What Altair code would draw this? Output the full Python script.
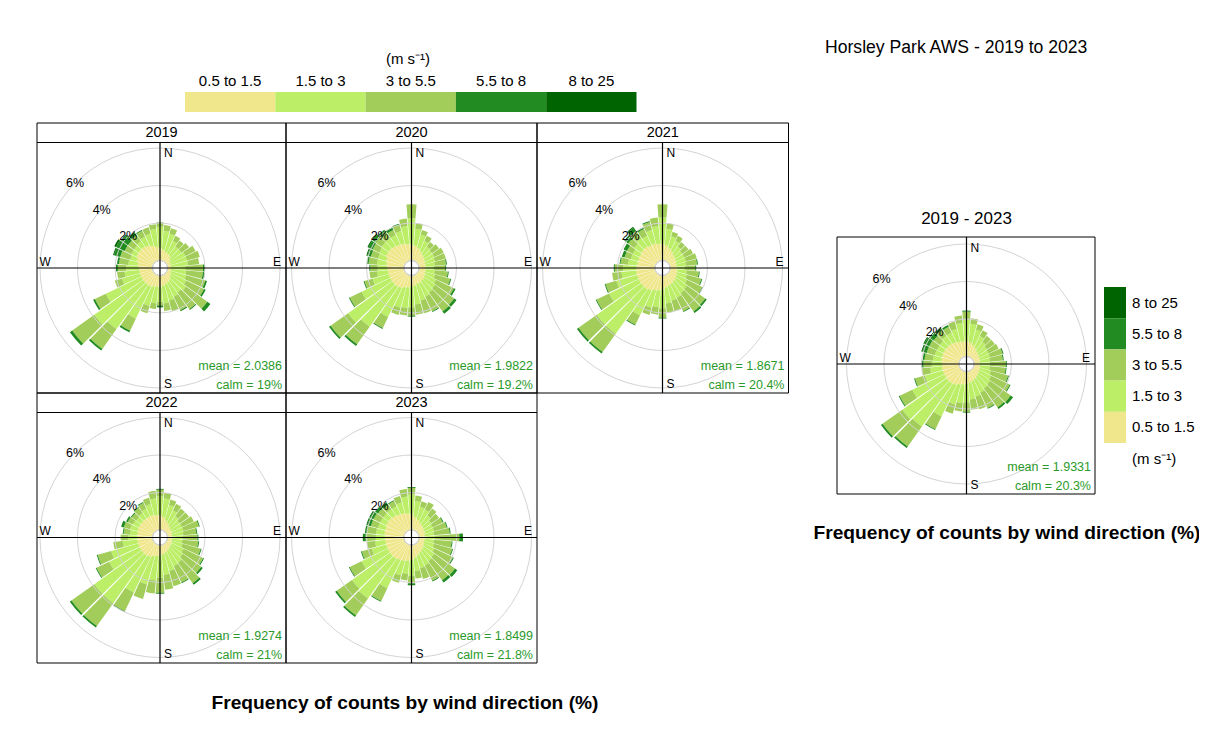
import math
import altair as alt
import pandas as pd

# ---------------- data ----------------
DIRECTIONS = [10, 20, 30, 40, 50, 60, 70, 80, 90, 100, 110, 120, 130, 140, 150, 160, 170, 180,
              190, 200, 210, 220, 230, 240, 250, 260, 270, 280, 290, 300, 310, 320, 330, 340, 350, 360]
SPEED_BINS = ["0.5 to 1.5", "1.5 to 3", "3 to 5.5", "5.5 to 8", "8 to 25"]
SPEED_COLORS = ["#F0E68C", "#BCEE68", "#A2CD5A", "#228B22", "#006400"]
PANELS = ["2019", "2020", "2021", "2022", "2023", "2019 - 2023"]
MEAN_SPEED = ["2.0386", "1.9822", "1.8671", "1.9274", "1.8499", "1.9331"]
CALM_PCT = ["19%", "19.2%", "20.4%", "21%", "21.8%", "20.3%"]
GRID_PCT = [2, 4, 6]
TITLE = "Horsley Park AWS - 2019 to 2023"
CAPTION = "Frequency of counts by wind direction (%)"
UNITS = "(m s\u207b\u00b9)"

P2019_S1 = [0.6, 0.5, 0.45, 0.4, 0.3, 0.2, 0.2, 0.2, 0.2, 0.2, 0.2, 0.25, 0.3, 0.4, 0.45, 0.5, 0.55, 0.6,
            0.6, 0.65, 0.7, 0.7, 0.7, 0.7, 0.7, 0.7, 0.7, 0.8, 0.9, 1.0, 1.0, 1.0, 0.95, 0.85, 0.75, 0.65]
P2019_S2 = [1.0, 1.0, 0.75, 0.6, 0.7, 0.9, 0.9, 0.9, 0.75, 0.8, 0.85, 0.9, 1.0, 0.8, 0.85, 0.9, 0.95, 0.8,
            0.9, 1.05, 1.9, 2.9, 3.2, 2.1, 1.0, 0.8, 0.7, 0.5, 0.35, 0.3, 0.3, 0.35, 0.5, 0.65, 0.95, 1.15]
P2019_S3 = [0.3, 0.3, 0.3, 0.4, 0.5, 0.6, 0.7, 0.6, 0.95, 0.9, 1.05, 1.05, 1.4, 1.1, 0.8, 0.6, 0.4, 0.2,
            0.3, 0.4, 0.7, 1.3, 1.45, 0.65, 0.4, 0.4, 0.45, 0.5, 0.55, 0.4, 0.4, 0.4, 0.35, 0.35, 0.25, 0.25]
P2019_S4 = [0, 0, 0, 0, 0, 0, 0, 0, 0.1, 0.1, 0.1, 0.1, 0.2, 0.05, 0.05, 0, 0, 0.1,
            0, 0, 0.1, 0.1, 0.15, 0.1, 0, 0, 0.1, 0.1, 0.35, 0.5, 0.4, 0.2, 0.05, 0, 0, 0]
P2019_S5 = [0, 0, 0, 0, 0, 0, 0, 0, 0, 0, 0, 0, 0, 0, 0, 0, 0, 0,
            0, 0, 0, 0, 0, 0, 0, 0, 0, 0, 0.05, 0.1, 0.05, 0, 0, 0, 0, 0]

P2020_S1 = [0.8, 0.7, 0.6, 0.5, 0.45, 0.4, 0.35, 0.35, 0.35, 0.35, 0.35, 0.4, 0.45, 0.45, 0.5, 0.5, 0.55, 0.6,
            0.65, 0.7, 0.8, 0.85, 0.85, 0.85, 0.85, 0.85, 0.9, 0.95, 1.0, 1.1, 1.1, 1.05, 1.0, 0.95, 0.9, 0.85]
P2020_S2 = [0.9, 0.75, 0.6, 0.5, 0.5, 0.55, 0.55, 0.5, 0.45, 0.5, 0.55, 0.65, 0.7, 0.75, 0.8, 0.9, 1.0, 1.1,
            1.1, 1.1, 1.7, 2.6, 2.9, 1.7, 0.9, 0.6, 0.5, 0.5, 0.45, 0.4, 0.45, 0.5, 0.55, 0.7, 0.95, 1.4]
P2020_S3 = [0.3, 0.25, 0.3, 0.3, 0.45, 0.55, 0.6, 0.6, 0.6, 0.7, 0.85, 1.05, 1.25, 1.25, 0.85, 0.7, 0.55, 0.45,
            0.4, 0.4, 0.65, 1.15, 1.15, 0.7, 0.45, 0.4, 0.4, 0.45, 0.4, 0.4, 0.4, 0.35, 0.3, 0.35, 0.4, 0.75]
P2020_S4 = [0, 0, 0, 0, 0, 0, 0, 0.05, 0.05, 0.05, 0.05, 0.1, 0.15, 0.15, 0.05, 0, 0, 0.05,
            0, 0, 0.05, 0.1, 0.1, 0.05, 0.05, 0, 0.05, 0.1, 0.2, 0.25, 0.2, 0.2, 0.15, 0.05, 0, 0]
P2020_S5 = [0, 0, 0, 0, 0, 0, 0, 0, 0, 0, 0, 0, 0, 0, 0, 0, 0, 0,
            0, 0, 0, 0, 0, 0, 0, 0, 0, 0, 0.05, 0.05, 0.05, 0, 0, 0, 0, 0]

P2021_S1 = [0.8, 0.7, 0.6, 0.5, 0.45, 0.4, 0.35, 0.35, 0.35, 0.4, 0.4, 0.45, 0.5, 0.5, 0.55, 0.6, 0.65, 0.75,
            0.8, 0.85, 0.95, 1.0, 1.0, 1.0, 1.0, 1.0, 1.0, 0.95, 0.95, 0.95, 1.0, 1.0, 0.95, 0.95, 0.9, 0.9]
P2021_S2 = [0.9, 0.65, 0.6, 0.5, 0.45, 0.5, 0.55, 0.5, 0.45, 0.5, 0.55, 0.6, 0.7, 0.75, 0.8, 0.8, 0.85, 1.0,
            0.9, 0.95, 1.45, 2.9, 2.9, 1.75, 1.15, 0.8, 0.7, 0.5, 0.4, 0.4, 0.45, 0.55, 0.55, 0.75, 0.95, 1.4]
P2021_S3 = [0.3, 0.25, 0.3, 0.3, 0.4, 0.5, 0.6, 0.6, 0.55, 0.65, 0.8, 0.9, 1.2, 1.2, 0.8, 0.6, 0.5, 0.5,
            0.4, 0.4, 0.55, 1.2, 1.2, 0.75, 0.6, 0.5, 0.45, 0.4, 0.35, 0.35, 0.4, 0.45, 0.4, 0.45, 0.45, 0.7]
P2021_S4 = [0, 0, 0, 0, 0, 0, 0, 0.05, 0.05, 0.05, 0.05, 0.05, 0.1, 0.1, 0.05, 0, 0, 0.05,
            0, 0, 0.05, 0.1, 0.1, 0.05, 0.05, 0, 0.05, 0.05, 0.15, 0.2, 0.2, 0.25, 0.1, 0.05, 0, 0]
P2021_S5 = [0, 0, 0, 0, 0, 0, 0, 0, 0, 0, 0, 0, 0, 0, 0, 0, 0, 0,
            0, 0, 0, 0, 0, 0, 0, 0, 0, 0, 0, 0, 0.05, 0.05, 0, 0, 0, 0]

P2022_S1 = [0.7, 0.55, 0.45, 0.35, 0.3, 0.3, 0.25, 0.25, 0.25, 0.25, 0.25, 0.3, 0.3, 0.35, 0.4, 0.45, 0.5, 0.55,
            0.6, 0.65, 0.75, 0.8, 0.8, 0.8, 0.8, 0.8, 0.8, 0.8, 0.85, 0.85, 0.85, 0.85, 0.85, 0.85, 0.8, 0.8]
P2022_S2 = [1.0, 0.85, 0.75, 0.65, 0.6, 0.6, 0.65, 0.6, 0.55, 0.55, 0.6, 0.7, 0.8, 0.9, 0.9, 1.0, 1.1, 1.2,
            1.3, 1.55, 2.1, 3.1, 3.1, 1.8, 1.5, 0.8, 0.5, 0.4, 0.4, 0.35, 0.3, 0.35, 0.45, 0.6, 0.9, 1.0]
P2022_S3 = [0.3, 0.3, 0.4, 0.5, 0.6, 0.7, 0.85, 0.7, 0.8, 0.85, 1.0, 1.15, 1.2, 1.35, 0.95, 0.85, 0.8, 0.8,
            0.7, 0.8, 1.1, 1.5, 1.5, 0.75, 0.75, 0.5, 0.4, 0.35, 0.35, 0.3, 0.3, 0.35, 0.35, 0.35, 0.4, 0.35]
P2022_S4 = [0, 0, 0, 0, 0, 0, 0.05, 0.05, 0.05, 0.05, 0.05, 0.05, 0.1, 0.1, 0.05, 0, 0, 0.05,
            0, 0, 0.05, 0.1, 0.1, 0.05, 0.05, 0, 0, 0.05, 0.15, 0.1, 0.05, 0.05, 0.05, 0, 0, 0.05]
P2022_S5 = [0, 0, 0, 0, 0, 0, 0, 0, 0, 0, 0, 0, 0, 0, 0, 0, 0, 0,
            0, 0, 0, 0, 0, 0, 0, 0, 0, 0, 0, 0, 0, 0, 0, 0, 0, 0]

P2023_S1 = [0.7, 0.6, 0.5, 0.45, 0.4, 0.35, 0.35, 0.3, 0.3, 0.3, 0.3, 0.35, 0.4, 0.45, 0.5, 0.6, 0.7, 0.8,
            0.85, 0.9, 0.95, 1.0, 1.0, 1.0, 1.0, 1.0, 1.0, 1.05, 1.05, 1.1, 1.1, 1.05, 1.0, 0.95, 0.9, 0.85]
P2023_S2 = [0.85, 0.7, 0.75, 0.6, 0.5, 0.5, 0.5, 0.5, 0.55, 0.5, 0.55, 0.6, 0.7, 0.7, 0.75, 0.7, 0.7, 0.85,
            0.7, 0.8, 1.65, 2.6, 2.5, 1.55, 0.8, 0.55, 0.5, 0.45, 0.4, 0.35, 0.35, 0.4, 0.45, 0.6, 0.9, 1.05]
P2023_S3 = [0.3, 0.3, 0.45, 0.45, 0.5, 0.6, 0.7, 0.85, 1.3, 0.95, 1.0, 1.1, 1.35, 1.25, 0.9, 0.6, 0.4, 0.4,
            0.35, 0.4, 0.75, 1.1, 1.0, 0.7, 0.55, 0.45, 0.55, 0.5, 0.4, 0.4, 0.35, 0.3, 0.3, 0.35, 0.4, 0.35]
P2023_S4 = [0, 0, 0, 0, 0, 0.05, 0.05, 0.05, 0.2, 0.05, 0.05, 0.05, 0.15, 0.15, 0.05, 0, 0, 0.1,
            0, 0, 0.05, 0.1, 0.1, 0.05, 0.05, 0, 0.15, 0.1, 0.2, 0.2, 0.2, 0.15, 0.05, 0, 0, 0.05]
P2023_S5 = [0, 0, 0, 0, 0, 0, 0, 0, 0, 0, 0, 0, 0, 0, 0, 0, 0, 0,
            0, 0, 0, 0, 0, 0, 0, 0, 0, 0, 0.05, 0.05, 0, 0, 0, 0, 0, 0]

PALL_S1 = [0.75, 0.65, 0.55, 0.45, 0.4, 0.35, 0.35, 0.3, 0.3, 0.3, 0.35, 0.35, 0.4, 0.45, 0.5, 0.55, 0.6, 0.65,
           0.7, 0.75, 0.85, 0.9, 0.9, 0.9, 0.9, 0.9, 0.9, 0.95, 0.95, 0.95, 0.95, 0.95, 0.9, 0.85, 0.8, 0.8]
PALL_S2 = [1.0, 0.85, 0.7, 0.6, 0.55, 0.55, 0.55, 0.55, 0.55, 0.55, 0.6, 0.7, 0.75, 0.75, 0.8, 0.85, 0.9, 1.0,
           1.0, 1.1, 1.85, 2.8, 2.9, 1.9, 1.0, 0.65, 0.55, 0.45, 0.4, 0.4, 0.4, 0.5, 0.55, 0.7, 1.0, 1.2]
PALL_S3 = [0.3, 0.3, 0.35, 0.4, 0.5, 0.6, 0.7, 0.7, 0.85, 0.85, 0.95, 1.1, 1.35, 1.25, 0.9, 0.7, 0.55, 0.5,
           0.45, 0.5, 0.75, 1.3, 1.3, 0.75, 0.55, 0.45, 0.45, 0.45, 0.45, 0.45, 0.4, 0.4, 0.35, 0.4, 0.4, 0.4]
PALL_S4 = [0, 0, 0, 0, 0, 0, 0.05, 0.05, 0.05, 0.05, 0.05, 0.05, 0.15, 0.1, 0.05, 0, 0, 0.05,
           0, 0, 0.05, 0.1, 0.1, 0.05, 0.05, 0, 0.1, 0.1, 0.25, 0.3, 0.25, 0.15, 0.1, 0, 0, 0.05]
PALL_S5 = [0, 0, 0, 0, 0, 0, 0, 0, 0, 0, 0, 0, 0, 0, 0, 0, 0, 0,
           0, 0, 0, 0, 0, 0, 0, 0, 0, 0, 0.05, 0.05, 0.05, 0, 0, 0, 0, 0]

PANEL_SERIES = {
    "2019": [P2019_S1, P2019_S2, P2019_S3, P2019_S4, P2019_S5],
    "2020": [P2020_S1, P2020_S2, P2020_S3, P2020_S4, P2020_S5],
    "2021": [P2021_S1, P2021_S2, P2021_S3, P2021_S4, P2021_S5],
    "2022": [P2022_S1, P2022_S2, P2022_S3, P2022_S4, P2022_S5],
    "2023": [P2023_S1, P2023_S2, P2023_S3, P2023_S4, P2023_S5],
    "2019 - 2023": [PALL_S1, PALL_S2, PALL_S3, PALL_S4, PALL_S5],
}

# ---------------- layout (page pixels) ----------------
OFF = 8
W, H = 1191, 710
FONT = "Liberation Sans"
HALF = 4.55
R_OFFSET, R_PER_PCT = 7.5, 18.75   # radial axis: px at 0 %, px per 1 %
LAYOUT = {
    "2019": (37, 286, 123, 142.5, 393, 160, 268, 133),
    "2020": (286, 537, 123, 142.5, 393, 411.5, 268, 133),
    "2021": (537, 788.5, 123, 142.5, 393, 662.5, 268, 133),
    "2022": (37, 286, 393, 412.5, 663, 160, 537.5, 403),
    "2023": (286, 537, 393, 412.5, 663, 411.5, 537.5, 403),
    "2019 - 2023": (837, 1095, 237, -1, 494, 966.5, 364, 219),
}

lay_rows = []
for p, m, c in zip(PANELS, MEAN_SPEED, CALM_PCT):
    l, r, t, s, b, cx, cy, ty = LAYOUT[p]
    has_strip = s > 0
    vtop = s if has_strip else t
    lay_rows.append(dict(panel=p, left=l - OFF, right=r - OFF, top=t - OFF,
                         vtop=vtop - OFF, bottom=b - OFF, cx=cx - OFF, cy=cy - OFF,
                         tx=((l + r) / 2 if has_strip else cx) - OFF, ty=ty - OFF,
                         strip=(s - OFF) if has_strip else -100, has_strip=int(has_strip),
                         mean="mean = " + m, calm="calm = " + c,
                         mx=r - 4 - OFF, my=b - 27 - OFF, ky=b - 8.5 - OFF))
lay = pd.DataFrame(lay_rows)

bar_rows = []
for p in PANELS:
    series = PANEL_SERIES[p]
    row = lay[lay.panel == p].iloc[0]
    for i, d in enumerate(DIRECTIONS):
        cum = 0.0
        for k, name in enumerate(SPEED_BINS):
            v = series[k][i]
            if v > 0:
                bar_rows.append(dict(panel=p, direction=d, speed=name, r0=cum, r1=cum + v,
                                     t1=d - HALF, t2=d + HALF, cx=float(row.cx), cy=float(row.cy)))
            cum += v
bars_df = pd.DataFrame(bar_rows)

ring_rows = []
for _, row in lay.iterrows():
    for g in GRID_PCT:
        rr = R_OFFSET + R_PER_PCT * g
        ring_rows.append(dict(panel=row.panel, cx=float(row.cx), cy=float(row.cy), pct=g, label=f"{g}%",
                              lx=float(row.cx) - rr * math.sqrt(0.5), ly=float(row.cy) - rr * math.sqrt(0.5)))
rings_df = pd.DataFrame(ring_rows)

compass_rows = []
for _, row in lay.iterrows():
    compass_rows.append(dict(t="N", x=row.cx + 4, y=row.vtop + 10.5, a="l"))
    compass_rows.append(dict(t="S", x=row.cx + 4, y=row.bottom - 9, a="l"))
    compass_rows.append(dict(t="W", x=row.left + 2.5, y=row.cy - 6.5, a="l"))
    compass_rows.append(dict(t="E", x=row.right - 5, y=row.cy - 6.5, a="r"))
compass = pd.DataFrame(compass_rows)

XP = lambda f: alt.X(f, scale=None, axis=None)
YP = lambda f: alt.Y(f, scale=None, axis=None)
R_SCALE = alt.Scale(type="linear", domain=[-R_OFFSET / R_PER_PCT, 6], range=[0, R_OFFSET + 6 * R_PER_PCT])
T_SCALE = alt.Scale(type="linear", domain=[0, 360], range=[0, 2 * math.pi])
C_SCALE = alt.Scale(domain=SPEED_BINS, range=SPEED_COLORS)

bars = alt.Chart(bars_df).mark_arc().encode(
    x=XP("cx:Q"), y=YP("cy:Q"),
    theta=alt.Theta("t1:Q", scale=T_SCALE, stack=False), theta2="t2:Q",
    radius=alt.Radius("r1:Q", scale=R_SCALE, stack=False), radius2="r0:Q",
    color=alt.Color("speed:N", scale=C_SCALE, legend=None),
)

rings = alt.Chart(rings_df).mark_arc(fill="transparent", stroke="#D4D4D4", strokeWidth=1).encode(
    x=XP("cx:Q"), y=YP("cy:Q"),
    radius=alt.Radius("pct:Q", scale=R_SCALE, stack=False),
    theta=alt.value(0), theta2=alt.value(2 * math.pi),
)

ring_labels = alt.Chart(rings_df).mark_text(font=FONT, fontSize=12.5, color="black", baseline="middle").encode(
    x=XP("lx:Q"), y=YP("ly:Q"), text="label:N")

hline = alt.Chart(lay).mark_rule(color="black", strokeWidth=1.2).encode(
    x=XP("left:Q"), x2="right:Q", y=YP("cy:Q"))
vline = alt.Chart(lay).mark_rule(color="black", strokeWidth=1.2).encode(
    x=XP("cx:Q"), y=YP("vtop:Q"), y2="bottom:Q")
boxes = alt.Chart(lay).mark_rect(fill="transparent", stroke="black", strokeWidth=1).encode(
    x=XP("left:Q"), x2="right:Q", y=YP("top:Q"), y2="bottom:Q")
strips = alt.Chart(lay).transform_filter("datum.has_strip == 1").mark_rule(
    color="black", strokeWidth=1).encode(x=XP("left:Q"), x2="right:Q", y=YP("strip:Q"))

titles_grid = alt.Chart(lay).transform_filter("datum.has_strip == 1").mark_text(
    font=FONT, fontSize=14.5, color="black", baseline="middle").encode(
    x=XP("tx:Q"), y=YP("ty:Q"), text="panel:N")
titles_all = alt.Chart(lay).transform_filter("datum.has_strip == 0").mark_text(
    font=FONT, fontSize=17, color="black", baseline="middle").encode(
    x=XP("tx:Q"), y=YP("ty:Q"), text="panel:N")

compass_l = alt.Chart(compass).transform_filter("datum.a == 'l'").mark_text(
    font=FONT, fontSize=12, align="left", baseline="middle", color="black").encode(
    x=XP("x:Q"), y=YP("y:Q"), text="t:N")
compass_r = alt.Chart(compass).transform_filter("datum.a == 'r'").mark_text(
    font=FONT, fontSize=12, align="right", baseline="middle", color="black").encode(
    x=XP("x:Q"), y=YP("y:Q"), text="t:N")

GREEN = "#2B9A2B"
means = alt.Chart(lay).mark_text(font=FONT, fontSize=12.5, align="right", baseline="middle", color=GREEN).encode(
    x=XP("mx:Q"), y=YP("my:Q"), text="mean:N")
calms = alt.Chart(lay).mark_text(font=FONT, fontSize=12.5, align="right", baseline="middle", color=GREEN).encode(
    x=XP("mx:Q"), y=YP("ky:Q"), text="calm:N")

TOP_X0, TOP_W, TOP_Y0, TOP_Y1 = 185, 90.3, 92, 112
top_leg = pd.DataFrame([dict(speed=s, x0=TOP_X0 + i * TOP_W - OFF, x1=TOP_X0 + (i + 1) * TOP_W - OFF,
                             xc=TOP_X0 + (i + 0.5) * TOP_W - OFF, y0=TOP_Y0 - OFF, y1=TOP_Y1 - OFF,
                             ty=81 - OFF) for i, s in enumerate(SPEED_BINS)])
top_rects = alt.Chart(top_leg).mark_rect().encode(
    x=XP("x0:Q"), x2="x1:Q", y=YP("y0:Q"), y2="y1:Q",
    color=alt.Color("speed:N", scale=C_SCALE, legend=None))
top_labels = alt.Chart(top_leg).mark_text(font=FONT, fontSize=15, baseline="middle", color="black").encode(
    x=XP("xc:Q"), y=YP("ty:Q"), text="speed:N")

R_X0, R_X1, R_Y0, R_H = 1104, 1126, 287, 31.2
rev = list(reversed(SPEED_BINS))
right_leg = pd.DataFrame([dict(speed=s, x0=R_X0 - OFF, x1=R_X1 - OFF, y0=R_Y0 + i * R_H - OFF,
                               y1=R_Y0 + (i + 1) * R_H - OFF, yc=R_Y0 + (i + 0.5) * R_H - OFF,
                               tx=1132 - OFF) for i, s in enumerate(rev)])
right_rects = alt.Chart(right_leg).mark_rect().encode(
    x=XP("x0:Q"), x2="x1:Q", y=YP("y0:Q"), y2="y1:Q",
    color=alt.Color("speed:N", scale=C_SCALE, legend=None))
right_labels = alt.Chart(right_leg).mark_text(font=FONT, fontSize=15, align="left", baseline="middle",
                                              color="black").encode(
    x=XP("tx:Q"), y=YP("yc:Q"), text="speed:N")

units_top = alt.Chart(pd.DataFrame([dict(t=UNITS, x=408 - OFF, y=59 - OFF)])).mark_text(
    font=FONT, fontSize=15, baseline="middle", color="black").encode(x=XP("x:Q"), y=YP("y:Q"), text="t:N")
units_right = alt.Chart(pd.DataFrame([dict(t=UNITS, x=1132 - OFF, y=459 - OFF)])).mark_text(
    font=FONT, fontSize=15, align="left", baseline="middle", color="black").encode(
    x=XP("x:Q"), y=YP("y:Q"), text="t:N")
main_title = alt.Chart(pd.DataFrame([dict(t=TITLE, x=825 - OFF, y=48 - OFF)])).mark_text(
    font=FONT, fontSize=17.6, align="left", baseline="middle", color="black").encode(
    x=XP("x:Q"), y=YP("y:Q"), text="t:N")
captions = alt.Chart(pd.DataFrame([dict(t=CAPTION, x=405 - OFF, y=703 - OFF),
                                   dict(t=CAPTION, x=1007 - OFF, y=533 - OFF)])).mark_text(
    font=FONT, fontSize=19.2, fontWeight="bold", baseline="middle", color="black").encode(
    x=XP("x:Q"), y=YP("y:Q"), text="t:N")

chart = alt.layer(
    bars, rings, ring_labels, hline, vline, boxes, strips, titles_grid, titles_all,
    compass_l, compass_r, means, calms, top_rects, top_labels, right_rects, right_labels,
    units_top, units_right, main_title, captions,
).properties(width=W, height=H, padding=0, background="white",
             autosize=alt.AutoSizeParams(type="none")).configure_view(stroke=None)

chart.save("out.html", embed_options={"renderer": "svg", "actions": False})
